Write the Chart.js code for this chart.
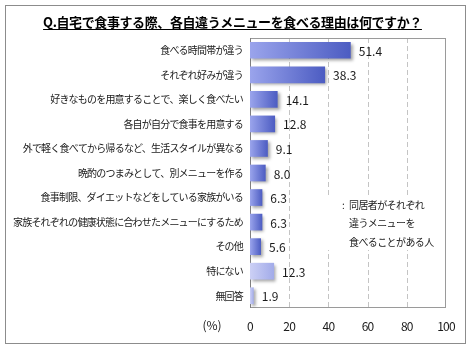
<!DOCTYPE html>
<html>
<head>
<meta charset="utf-8">
<script src="https://cdn.jsdelivr.net/npm/chart.js@4/dist/chart.umd.min.js"></script>
<style>
    html, body { margin: 0; padding: 0; background: #fff; }
    #wrap { width: 470px; height: 350px; }
</style>
</head>
<body>
<div id="wrap"><canvas id="chart"></canvas></div>
<script>
const TITLE = 'Q.自宅で食事する際、各自違うメニューを食べる理由は何ですか？'
const categories = [
    '食べる時間帯が違う',
    'それぞれ好みが違う',
    '好きなものを用意することで、楽しく食べたい',
    '各自が自分で食事を用意する',
    '外で軽く食べてから帰るなど、生活スタイルが異なる',
    '晩酌のつまみとして、別メニューを作る',
    '食事制限、ダイエットなどをしている家族がいる',
    '家族それぞれの健康状態に合わせたメニューにするため',
    'その他',
    '特にない',
    '無回答'
]
const values = [51.4, 38.3, 14.1, 12.8, 9.1, 8.0, 6.3, 6.3, 5.6, 12.3, 1.9]
// the last two answers are drawn in a lighter shade
const lightRows = ['特にない', '無回答']
const xTicks = [0, 20, 40, 60, 80, 100]
const note = ['同居者がそれぞれ', '違うメニューを', '食べることがある人']

const FONT = '"Noto Sans CJK JP", "Noto Sans", sans-serif'

function barFill(context) {
    const chart = context.chart
    const light = lightRows.includes(categories[context.dataIndex])
    const from = light ? '#ccd0f5' : '#9aa4ec'
    const to = light ? '#a2abe9' : '#4c5cc2'
    if (!chart.chartArea || context.raw === undefined) return to
    const x = chart.scales.x
    const x0 = x.getPixelForValue(0)
    const x1 = x.getPixelForValue(context.raw)
    const g = chart.ctx.createLinearGradient(x0, 0, Math.max(x1, x0 + 1), 0)
    g.addColorStop(0, from)
    g.addColorStop(1, to)
    return g
}

const decorPlugin = {
    id: 'decor',
    beforeDraw(chart) {
        // tighter spacing for the axis labels, like the original proportional font
        chart.ctx.letterSpacing = '-0.8px'
    },
    beforeDatasetsDraw(chart) {
        const ctx = chart.ctx
        ctx.letterSpacing = '0px'
        const {left, top, right, bottom} = chart.chartArea

        // dashed vertical grid lines, inner ticks only
        ctx.save()
        ctx.strokeStyle = '#c4c4c4'
        ctx.lineWidth = 1
        ctx.setLineDash([5, 3])
        xTicks.slice(1, -1).forEach((v) => {
            const px = Math.round(chart.scales.x.getPixelForValue(v)) + 0.5
            ctx.beginPath()
            ctx.moveTo(px, top)
            ctx.lineTo(px, bottom)
            ctx.stroke()
        })
        ctx.restore()

        ctx.save()
        ctx.strokeStyle = '#9a9a9a'
        ctx.lineWidth = 1
        ctx.strokeRect(left + 0.5, top + 0.5, right - left - 1, bottom - top - 1)
        ctx.strokeStyle = '#808080'
        ctx.beginPath()
        ctx.moveTo(left + 0.5, top)
        ctx.lineTo(left + 0.5, bottom)
        ctx.stroke()
        ctx.restore()

        ctx.save()
        ctx.shadowColor = 'rgba(0,0,0,0.35)'
        ctx.shadowOffsetX = 2
        ctx.shadowOffsetY = 2
        ctx.shadowBlur = 3
    },
    afterDatasetsDraw(chart) {
        const ctx = chart.ctx
        ctx.restore()

        // value labels
        const meta = chart.getDatasetMeta(0)
        ctx.save()
        ctx.font = '12px ' + FONT
        ctx.fillStyle = '#1a1a1a'
        ctx.textBaseline = 'middle'
        ctx.textAlign = 'left'
        meta.data.forEach((bar, i) => {
            ctx.fillText(values[i].toFixed(1), bar.x + 8, bar.y + 1)
        })

        // note box
        ctx.fillStyle = '#fff'
        ctx.fillRect(325, 196, 105, 54)
        ctx.fillStyle = '#1a1a1a'
        ctx.font = '10px ' + FONT
        ctx.fillText(':', 342, 205)
        ctx.letterSpacing = '-0.6px'
        note.forEach((line, i) => {
            ctx.fillText(line, 349, 205 + i * 18.5)
        })
        ctx.letterSpacing = '0px'
        ctx.restore()
    },
    afterDraw(chart) {
        const ctx = chart.ctx
        ctx.save()
        // outer frame
        ctx.strokeStyle = '#8c8c8c'
        ctx.lineWidth = 1
        ctx.strokeRect(5.5, 5.5, 460, 338)

        // title with underline
        ctx.font = 'bold 13px ' + FONT
        ctx.letterSpacing = '-0.4px'
        ctx.fillStyle = '#000'
        ctx.textBaseline = 'middle'
        ctx.textAlign = 'left'
        const w = ctx.measureText(TITLE).width
        const tx = 232.5 - w / 2
        ctx.fillText(TITLE, tx, 22)
        ctx.fillRect(tx, 29, w, 1)
        ctx.letterSpacing = '0px'

        // unit label
        ctx.font = '12px ' + FONT
        ctx.fillStyle = '#1a1a1a'
        ctx.textAlign = 'center'
        ctx.fillText('(%)', 212, 325)
        ctx.restore()
    }
}

new Chart(document.getElementById('chart'), {
    type: 'bar',
    data: {
        labels: categories,
        datasets: [{
            data: values,
            backgroundColor: barFill,
            borderWidth: 0,
            barPercentage: 0.68,
            categoryPercentage: 1
        }]
    },
    options: {
        indexAxis: 'y',
        responsive: true,
        maintainAspectRatio: false,
        animation: false,
        events: [],
        layout: {
            padding: {left: 0, top: 38, right: 24, bottom: 0}
        },
        scales: {
            x: {
                min: 0,
                max: 100,
                afterBuildTicks: (scale) => {
                    scale.ticks = xTicks.map((v) => ({value: v}))
                },
                afterFit: (scale) => {
                    scale.height = 42
                },
                grid: {display: false, drawTicks: false},
                border: {display: false},
                ticks: {
                    padding: 11,
                    color: '#1a1a1a',
                    font: {size: 12, family: FONT},
                    maxRotation: 0
                }
            },
            y: {
                afterFit: (scale) => {
                    scale.width = 250
                },
                grid: {display: false, drawTicks: false},
                border: {display: false},
                ticks: {
                    padding: 7,
                    color: '#1a1a1a',
                    font: {size: 10, family: FONT},
                    autoSkip: false
                }
            }
        },
        plugins: {
            legend: {display: false},
            tooltip: {enabled: false},
            title: {display: false}
        }
    },
    plugins: [decorPlugin]
})
</script>
</body>
</html>
